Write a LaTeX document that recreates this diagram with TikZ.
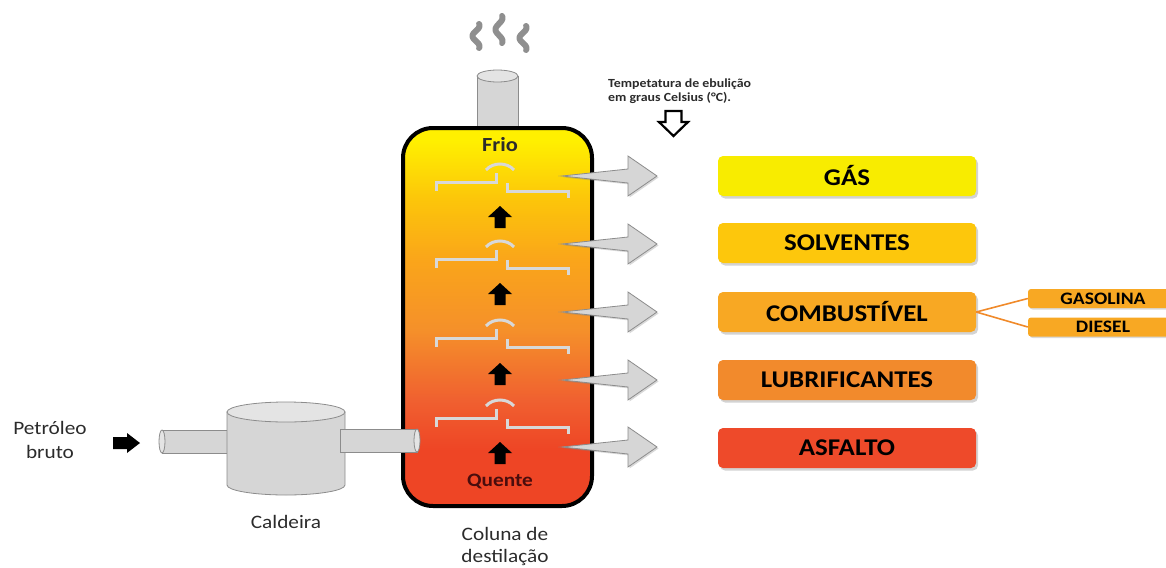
\documentclass[tikz,border=0pt]{standalone}
\usepackage{fontspec}
\setmainfont{Carlito}[FakeStretch=1.12]
\usetikzlibrary{shadows}

\definecolor{cold}{HTML}{FFF000}
\definecolor{warm1}{HTML}{FCC50A}
\definecolor{warm2}{HTML}{FAA51A}
\definecolor{warm3}{HTML}{F5902A}
\definecolor{warm4}{HTML}{F06030}
\definecolor{hot}{HTML}{EE4525}
\definecolor{gasC}{HTML}{F8EC00}
\definecolor{solvC}{HTML}{FDC70C}
\definecolor{combC}{HTML}{F8A823}
\definecolor{lubC}{HTML}{F28A2C}
\definecolor{asfC}{HTML}{EE4A2A}
\definecolor{linkC}{HTML}{F08A2A}
\definecolor{metalC}{HTML}{D6D6D6}
\definecolor{metalTop}{HTML}{E4E4E4}
\definecolor{metalEdge}{HTML}{8C8C8C}
\definecolor{trayC}{HTML}{D8D8D8}
\definecolor{steamC}{HTML}{8F8F8F}
\definecolor{quenteC}{HTML}{4A0D0D}
\definecolor{textC}{HTML}{2B2B2B}

% vertical colour run of the column, bottom (hot) to top (cold)
\pgfdeclareverticalshading{columnfill}{100bp}{%
  color(0bp)=(hot); color(32.4bp)=(hot); color(39bp)=(warm4);
  color(48.3bp)=(warm3); color(57.5bp)=(warm2); color(65.5bp)=(warm1);
  color(73.4bp)=(cold); color(100bp)=(cold)}

\begin{document}
\begin{tikzpicture}[x=1pt,y=-1pt,
  steam/.style={draw=steamC, line width=6pt, line cap=round},
  metal/.style={fill=metalC, draw=metalEdge, line width=0.8pt},
  metaltop/.style={fill=metalTop, draw=metalEdge, line width=0.8pt},
  tray/.style={draw=trayC, line width=3pt},
  risearrow/.style={fill=black},
  outarrow/.style={fill=metalC, draw=metalEdge, line width=0.8pt,
    drop shadow={opacity=0.3, shadow xshift=1.5pt, shadow yshift=-1.5pt}},
  prodbox/.style={rectangle, rounded corners=5pt, minimum width=258pt,
    minimum height=40pt, inner sep=0pt,
    font=\bfseries\fontsize{24}{26}\selectfont,
    drop shadow={opacity=0.35, shadow xshift=2pt, shadow yshift=-2.5pt}},
  subbox/.style={rectangle, rounded corners=3pt, fill=combC,
    minimum width=150pt, minimum height=19pt, inner sep=0pt,
    font=\bfseries\fontsize{17.5}{19}\selectfont,
    drop shadow={opacity=0.3, shadow xshift=1.5pt, shadow yshift=-1.5pt}},
  label/.style={inner sep=0pt, text=textC, align=center,
    font=\fontsize{19}{24}\selectfont},
  link/.style={draw=linkC, line width=1.6pt}]

\useasboundingbox (0,0) rectangle (1166,567);
\clip (0,0) rectangle (1166,567);

% steam above the chimney
\foreach \cx/\ty/\h in {476/24/24, 499/16/27, 523/26/24}
  \draw[steam] plot[domain=0:1, samples=50, variable=\t]
    ({\cx+3.5*sin(420*\t+60)}, {\ty+\h*\t});

% chimney
\draw[metal] (477,76) rectangle (518,132);
\draw[metaltop] (497.5,76) ellipse [x radius=20.5, y radius=6];

% distillation column
\shadedraw[shading=columnfill, draw=black, line width=4pt,
  rounded corners=30pt] (403,128) rectangle (592,506);

% trays with bubble caps
\foreach \Y in {182,259,338,418} {
  \draw[tray] (436,\Y+9) -- (436,\Y) -- (496,\Y) -- (496,\Y-9);
  \draw[tray] (507,\Y+1) -- (507,\Y+9) -- (568,\Y+9) -- (568,\Y+16);
  \draw[tray] (486,\Y-12) .. controls (493,\Y-20) and (507,\Y-20) .. (514,\Y-12);
}

% rising vapour arrows
\foreach \Y in {217,294,374,453}
  \fill[risearrow] (500,\Y-11) -- (512,\Y) -- (505.5,\Y) -- (505.5,\Y+11)
    -- (494.5,\Y+11) -- (494.5,\Y) -- (488,\Y) -- cycle;

% draw-off arrows
\foreach \Y in {176,244,312,380,447}
  \draw[outarrow] (562,\Y) -- (628,\Y-7) -- (628,\Y-20) -- (657,\Y)
    -- (628,\Y+20) -- (628,\Y+7) -- cycle;

\node[font=\bfseries\fontsize{20}{22}\selectfont, text=textC] (frio) at (500,145) {Frio};
\node[font=\bfseries\fontsize{19}{22}\selectfont, text=quenteC] (quente) at (500,481) {Quente};

% boiling-temperature note
\node[anchor=north west, inner sep=0pt, align=left, text=textC,
  font=\bfseries\fontsize{12.4}{14}\selectfont] (note) at (608,79)
  {Tempetatura de ebulição\\em graus Celsius (°C).};
\draw[fill=white, draw=black, line width=2.2pt, line join=miter]
  (665.5,111) -- (681.5,111) -- (681.5,122) -- (688,122) -- (673.5,136)
  -- (659,122) -- (665.5,122) -- cycle;

% products
\node[prodbox, fill=gasC]  (gas)  at (847,176) {GÁS};
\node[prodbox, fill=solvC] (solv) at (847,243) {SOLVENTES};
\node[prodbox, fill=combC] (comb) at (847,312) {COMBUSTÍVEL};
\node[prodbox, fill=lubC]  (lub)  at (847,380) {LUBRIFICANTES};
\node[prodbox, fill=asfC]  (asf)  at (847,448) {ASFALTO};

\node[subbox] (gasol)  at (1103,298.5) {GASOLINA};
\node[subbox] (diesel) at (1103,327) {DIESEL};
\draw[link] (comb.east) -- (gasol.west);
\draw[link] (comb.east) -- (diesel.west);

% boiler with its pipes
\draw[metal] (162,430) rectangle (232,453);
\draw[metaltop] (162,441.5) ellipse [x radius=3, y radius=11.5];
\draw[metal] (227,412) -- (227,485) arc[start angle=180, end angle=0,
  x radius=59, y radius=10] -- (345,412) -- cycle;
\draw[metaltop] (286,412) ellipse [x radius=59, y radius=10];
\draw[metal] (340,429) rectangle (417,452);
\draw[metaltop] (417,440.5) ellipse [x radius=3, y radius=11.5];

% feed arrow
\fill[black] (113,437) -- (127,437) -- (127,433) -- (140,443) -- (127,453)
  -- (127,449) -- (113,449) -- cycle;

\node[label] (feed) at (50,440) {Petróleo\\bruto};
\node[label] (boiler) at (286,522) {Caldeira};
\node[label, font=\fontsize{19}{22}\selectfont] (collabel) at (505,546) {Coluna de\\destilação};
\end{tikzpicture}
\end{document}
